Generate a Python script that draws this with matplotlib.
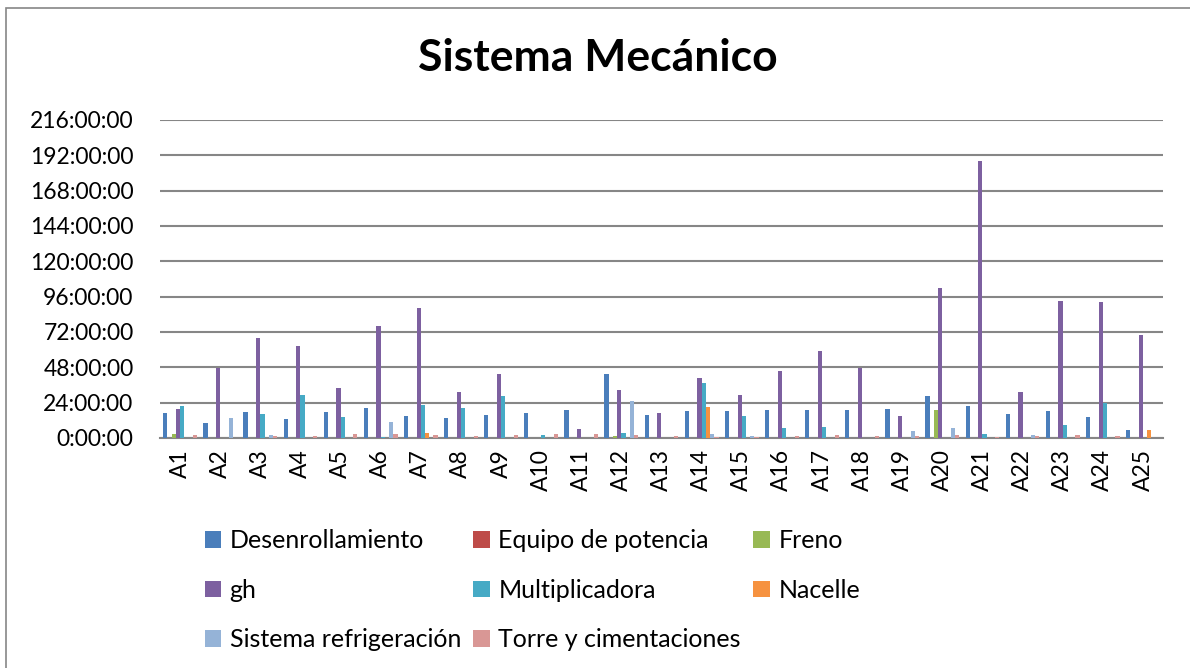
import numpy as np
import matplotlib.pyplot as plt
from matplotlib.patches import Rectangle

plt.rcParams['font.family'] = ['Lato', 'DejaVu Sans']

categories = ['A%d' % i for i in range(1, 26)]

series_names = ['Desenrollamiento', 'Equipo de potencia', 'Freno', 'gh',
                'Multiplicadora', 'Nacelle', 'Sistema refrigeración',
                'Torre y cimentaciones']

# hours
desenrollamiento = [16.8, 10.4, 17.9, 13.1, 17.4, 20.4, 15.0, 13.4, 15.4, 16.8, 19.2, 43.5, 15.4,
                    18.3, 18.3, 19.0, 18.8, 19.0, 19.7, 28.7, 21.5, 16.5, 18.6, 14.0, 5.2]
equipo_potencia = [0] * 25
freno = [2.7, 0, 0, 0, 0, 0, 0, 0, 0, 0, 0, 1.1, 0,
         0, 0, 0, 0, 0, 0, 18.8, 0, 0, 0, 0, 0]
gh = [19.5, 47.6, 67.7, 62.7, 33.7, 76.0, 88.3, 31.0, 43.3, 0, 6.1, 32.4, 17.0,
      40.5, 29.2, 45.5, 59.3, 47.3, 14.7, 101.7, 188.0, 31.0, 93.0, 92.4, 70.0]
multiplicadora = [22.0, 0, 16.3, 29.2, 14.3, 0.5, 22.6, 20.2, 28.7, 1.8, 0, 3.4, 0,
                  37.4, 14.9, 7.0, 7.5, 0, 0, 0, 2.7, 0, 8.8, 23.5, 0]
nacelle = [0, 0, 0, 0, 0, 0, 3.4, 0, 0, 0, 0, 0, 0,
           21.0, 0, 0, 0, 0, 0, 0, 0, 0, 0, 0, 5.2]
sistema_refrigeracion = [0, 13.4, 2.0, 0, 0, 10.9, 0, 0, 0, 0, 0, 24.9, 0,
                         2.7, 1.4, 0, 0, 0, 4.8, 7.0, 0, 2.0, 0, 0, 0]
torre = [2.2, 0, 1.4, 1.4, 2.5, 2.7, 2.0, 1.6, 2.0, 2.9, 2.7, 2.0, 1.6,
         1.0, 0.9, 1.4, 2.3, 1.4, 1.6, 2.3, 0.9, 1.6, 2.0, 1.4, 0]

yticks = list(range(0, 217, 24))

data = [desenrollamiento, equipo_potencia, freno, gh, multiplicadora,
        nacelle, sistema_refrigeracion, torre]
colors = ['#4A7EBB', '#BE4B48', '#98B954', '#7D60A0', '#46AAC5',
          '#F69240', '#95B3D7', '#D99795']

fig = plt.figure(figsize=(11.9, 6.68), dpi=100)
fig.patches.append(Rectangle((6 / 1190, -0.1), 1.2, (668 - 8) / 668 + 0.1,
                             transform=fig.transFigure, fill=False,
                             edgecolor='#868686', linewidth=1.2))
ax = fig.add_axes([160 / 1190, (668 - 438) / 668, (1163 - 160) / 1190, 318 / 668])

x = np.arange(len(categories))
w = 1 / 9.5
handles = []
for i, (vals, col, name) in enumerate(zip(data, colors, series_names)):
    b = ax.bar(x + (i - 3.5) * w, vals, w, color=col, label=name, zorder=3)
    handles.append(b)

ax.set_xlim(-0.5, len(categories) - 0.5)
ax.set_ylim(0, 216)
ax.set_yticks(yticks)
ax.set_yticklabels(['%d:00:00' % t for t in yticks], fontsize=16.5)
ax.set_xticks(x)
ax.set_xticklabels(categories, rotation=90, fontsize=16.5)
ax.tick_params(axis='x', length=0, pad=8)
ax.tick_params(axis='y', length=0, pad=19)
ax.grid(axis='y', color='#868686', linewidth=1.5, zorder=0)
for s in ['top', 'right', 'left']:
    ax.spines[s].set_visible(False)
ax.spines['bottom'].set_color('#868686')
ax.spines['bottom'].set_linewidth(1.5)

fig.text(598 / 1190, 1 - 58 / 668, 'Sistema Mecánico', ha='center', va='center',
         fontsize=32, fontweight='bold')

order = [0, 3, 6, 1, 4, 7, 2, 5]
fig.legend([handles[k] for k in order], [series_names[k] for k in order],
           ncol=3, loc='upper left', bbox_to_anchor=(182 / 1190, 1 - 507 / 668),
           frameon=False, fontsize=18, handlelength=0.65, handleheight=0.65,
           handletextpad=0.35, columnspacing=0.5, labelspacing=1.05)

fig.savefig('out.png', dpi=100)
